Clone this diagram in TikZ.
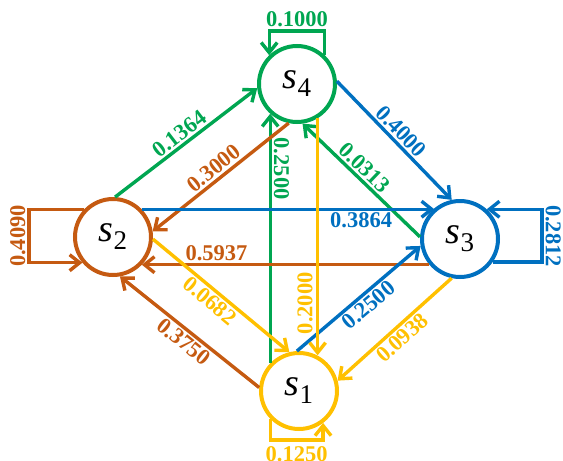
\documentclass[tikz,border=0pt]{standalone}
\usepackage{fontspec}
\setmainfont{Liberation Serif}
\usetikzlibrary{arrows.meta}
\definecolor{cgreen}{HTML}{00A651}
\definecolor{cbrown}{HTML}{C55A11}
\definecolor{cblue}{HTML}{0070C0}
\definecolor{cgold}{HTML}{FFC000}
\newcommand{\statelab}[1]{\fontsize{38}{38}\selectfont\textit{s}\raisebox{-8pt}{\fontsize{27}{27}\selectfont #1}}
\begin{document}
\begin{tikzpicture}[x=1pt,y=-1pt,
  state/.style={circle, draw, line width=4pt, fill=white, minimum size=76pt,
                inner sep=0pt, outer sep=2pt},
  edge/.style={line width=3.4pt, -{Straight Barb[length=10pt,width=16pt]}},
  lbl/.style={font=\fontsize{22.5}{22.5}\selectfont\bfseries, inner sep=3.6pt, outer sep=0pt}]
\useasboundingbox (0,0) rectangle (563,461);

% states
\node[state, draw=cgreen] (S4) at (297,84)  {\statelab{4}};
\node[state, draw=cbrown] (S2) at (113,237) {\statelab{2}};
\node[state, draw=cblue]  (S3) at (460,239) {\statelab{3}};
\node[state, draw=cgold]  (S1) at (299,391) {\statelab{1}};

% corners of the self-loops
\coordinate (c4) at (297,31);
\coordinate (c2) at (29,236);
\coordinate (c3) at (542,236);
\coordinate (c1) at (297,440);

% transitions into s4
\draw[edge, cgreen] (S2.87) -- node[lbl, sloped, above, pos=0.5] (l1364) {0.1364} (S4.186);
\draw[edge, cgreen] (S1.136) -- node[lbl, rotate=-90, anchor=south, pos=0.78] (l2500g) {0.2500} (S1.136 |- S4.228);
\draw[edge, cgreen] (S3.177) -- node[lbl, sloped, above, pos=0.54] (l0313) {0.0313} (S4.278);
\draw[edge, cgreen] (S4.46) |- node[lbl, above, inner sep=4.5pt, pos=0.75] (l1000) {0.1000} (S4.134 |- c4) -- (S4.134);

% transitions into s2
\draw[edge, cbrown] (S4.258) -- node[lbl, sloped, above, pos=0.5] (l3000) {0.3000} (S2.8);
\draw[edge, cbrown] (S3.220) -- node[lbl, above, pos=0.74] (l5937) {0.5937} (S3.220 -| S2.316);
\draw[edge, cbrown] (S1.175) -- node[lbl, sloped, below, pos=0.49] (l3750) {0.3750} (S2.280);
\draw[edge, cbrown] (S2.136) -| node[lbl, rotate=90, anchor=south, pos=1] (l4090) {0.4090} (c2) |- (S2.220);

% transitions into s3
\draw[edge, cblue] (S4.4) -- node[lbl, sloped, above, pos=0.49] (l4000) {0.4000} (S3.102);
\draw[edge, cblue] (S2.44) -- node[lbl, below, pos=0.75] (l3864) {0.3864} (S2.44 -| S3.130);
\draw[edge, cblue] (S1.93) -- node[lbl, sloped, below, pos=0.52] (l2500b) {0.2500} (S3.190);
\draw[edge, cblue] (S3.-35) -| node[lbl, rotate=-90, anchor=south, pos=1] (l2812) {0.2812} (c3) |- (S3.48);

% transitions into s1
\draw[edge, cgold] (S2.-3) -- node[lbl, sloped, below, pos=0.47] (l0682) {0.0682} (S1.104);
\draw[edge, cgold] (S4.301) -- node[lbl, rotate=90, anchor=south, inner sep=5pt, pos=0.78] (l2000) {0.2000} (S4.301 |- S1.63);
\draw[edge, cgold] (S3.258) -- node[lbl, sloped, below, pos=0.5] (l0938) {0.0938} (S1.15);
\draw[edge, cgold] (S1.224) |- node[lbl, below, inner sep=6.5pt, pos=0.75] (l1250) {0.1250} (S1.307 |- c1) -- (S1.307);
\end{tikzpicture}
\end{document}
